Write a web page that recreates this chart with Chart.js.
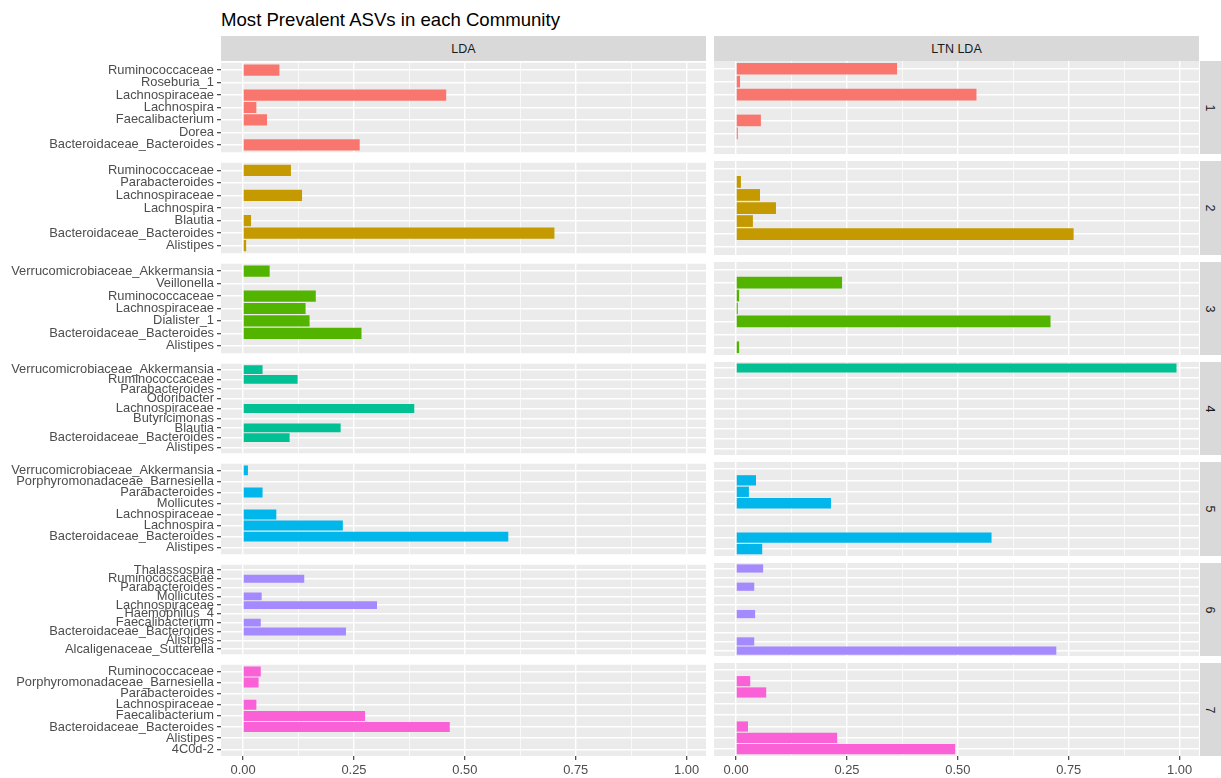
<!DOCTYPE html>
<html>
<head>
<meta charset="utf-8">
<script src="https://cdn.jsdelivr.net/npm/chart.js@4.4.1/dist/chart.umd.min.js"></script>
<style>
  body { margin: 0; background: #fff; width: 1221px; height: 778px; position: relative; overflow: hidden;
         font-family: "Liberation Sans", Arial, sans-serif; }
  canvas { position: absolute; }
  #title { position: absolute; left: 221px; top: 9px; font-size: 18.6px; line-height: 21px; color: #000; white-space: nowrap; }
  .strip { position: absolute; background: #D9D9D9; color: #1A1A1A; font-size: 12.5px;
           display: flex; align-items: center; justify-content: center; }
  .strip.side span { display: inline-block; transform: rotate(90deg); }
</style>
</head>
<body>
<div id="title">Most Prevalent ASVs in each Community</div>
<script>
// facets
const facets = ['LDA', 'LTN LDA'];
const communities = ['1', '2', '3', '4', '5', '6', '7'];
const colors = ['#F8766D', '#C49A00', '#53B400', '#00C094', '#00B6EB', '#A58AFF', '#FB61D7'];

// x axis
const xTicks = [0, 0.125, 0.25, 0.375, 0.5, 0.625, 0.75, 0.875, 1.0];
const xMajor = [0, 0.25, 0.5, 0.75, 1.0];
const xDataMax = 0.994;

// taxa per community, listed bottom -> top (ggplot order)
const taxa1 = ['Bacteroidaceae_Bacteroides', 'Dorea', 'Faecalibacterium', 'Lachnospira', 'Lachnospiraceae', 'Roseburia_1', 'Ruminococcaceae'];
const lda1 = [0.263, 0, 0.054, 0.030, 0.458, 0, 0.082];
const ltn1 = [0, 0.004, 0.056, 0, 0.542, 0.009, 0.363];

const taxa2 = ['Alistipes', 'Bacteroidaceae_Bacteroides', 'Blautia', 'Lachnospira', 'Lachnospiraceae', 'Parabacteroides', 'Ruminococcaceae'];
const lda2 = [0.007, 0.702, 0.018, 0, 0.133, 0, 0.108];
const ltn2 = [0, 0.761, 0.038, 0.090, 0.054, 0.011, 0];

const taxa3 = ['Alistipes', 'Bacteroidaceae_Bacteroides', 'Dialister_1', 'Lachnospiraceae', 'Ruminococcaceae', 'Veillonella', 'Verrucomicrobiaceae_Akkermansia'];
const lda3 = [0, 0.267, 0.150, 0.141, 0.164, 0, 0.060];
const ltn3 = [0.007, 0, 0.709, 0.004, 0.007, 0.239, 0];

const taxa4 = ['Alistipes', 'Bacteroidaceae_Bacteroides', 'Blautia', 'Butyricimonas', 'Lachnospiraceae', 'Odoribacter', 'Parabacteroides', 'Ruminococcaceae', 'Verrucomicrobiaceae_Akkermansia'];
const lda4 = [0, 0.105, 0.220, 0, 0.386, 0, 0, 0.123, 0.044];
const ltn4 = [0, 0, 0, 0, 0, 0, 0, 0, 0.993];

const taxa5 = ['Alistipes', 'Bacteroidaceae_Bacteroides', 'Lachnospira', 'Lachnospiraceae', 'Mollicutes', 'Parabacteroides', 'Porphyromonadaceae_Barnesiella', 'Verrucomicrobiaceae_Akkermansia'];
const lda5 = [0, 0.598, 0.225, 0.075, 0, 0.044, 0, 0.011];
const ltn5 = [0.059, 0.576, 0, 0, 0.214, 0.029, 0.045, 0];

const taxa6 = ['Alcaligenaceae_Sutterella', 'Alistipes', 'Bacteroidaceae_Bacteroides', 'Faecalibacterium', 'Haemophilus_4', 'Lachnospiraceae', 'Mollicutes', 'Parabacteroides', 'Ruminococcaceae', 'Thalassospira'];
const lda6 = [0, 0, 0.232, 0.040, 0, 0.302, 0.042, 0, 0.138, 0];
const ltn6 = [0.722, 0.041, 0, 0, 0.043, 0, 0, 0.041, 0, 0.061];

const taxa7 = ['4C0d-2', 'Alistipes', 'Bacteroidaceae_Bacteroides', 'Faecalibacterium', 'Lachnospiraceae', 'Parabacteroides', 'Porphyromonadaceae_Barnesiella', 'Ruminococcaceae'];
const lda7 = [0, 0, 0.466, 0.275, 0.030, 0, 0.035, 0.040];
const ltn7 = [0.494, 0.228, 0.027, 0, 0, 0.068, 0.032, 0];

const taxa = [taxa1, taxa2, taxa3, taxa4, taxa5, taxa6, taxa7];
const ldaValues = [lda1, lda2, lda3, lda4, lda5, lda6, lda7];
const ltnValues = [ltn1, ltn2, ltn3, ltn4, ltn5, ltn6, ltn7];

// layout (px)
const PANEL_TOP = 61, PANEL_H = 93.3, GAP = 7;
const LEFT_X = 221, LEFT_R = 706, RIGHT_X = 714, RIGHT_R = 1199;
const PAD = 9, AXIS_H = 22;
const FONT = { family: '"Liberation Sans", Arial, sans-serif', size: 12.9 };

const panelBg = {
    id: 'panelBg',
    beforeDraw(chart) {
        const a = chart.chartArea;
        const ctx = chart.ctx;
        ctx.save();
        ctx.fillStyle = '#EBEBEB';
        ctx.fillRect(a.left, a.top, a.right - a.left, a.bottom - a.top);
        ctx.restore();
    }
};

const isMajor = v => xMajor.some(m => Math.abs(m - v) < 1e-9);

function addStrip(text, x, y, w, h, side) {
    const d = document.createElement('div');
    d.className = 'strip' + (side ? ' side' : '');
    d.style.left = x + 'px';
    d.style.top = y + 'px';
    d.style.width = w + 'px';
    d.style.height = h + 'px';
    const s = document.createElement('span');
    s.textContent = text;
    d.appendChild(s);
    document.body.appendChild(d);
}

function makePanel(r, col) {
    const isLeft = col === 0;
    const isBottom = r === communities.length - 1;
    const names = taxa[r];
    const values = isLeft ? ldaValues[r] : ltnValues[r];
    const top = Math.round(PANEL_TOP + r * (PANEL_H + GAP));
    const bottom = Math.round(PANEL_TOP + r * (PANEL_H + GAP) + PANEL_H);

    const canvas = document.createElement('canvas');
    const left = isLeft ? 0 : RIGHT_X;
    const width = isLeft ? LEFT_R : RIGHT_R - RIGHT_X;
    const height = (bottom - top) + PAD + (isBottom ? AXIS_H : PAD);
    canvas.width = width;
    canvas.height = height;
    canvas.style.left = left + 'px';
    canvas.style.top = (top - PAD) + 'px';
    canvas.style.width = width + 'px';
    canvas.style.height = height + 'px';
    document.body.appendChild(canvas);

    new Chart(canvas, {
        type: 'bar',
        data: {
            datasets: [{
                data: names.map((n, i) => ({ x: values[i], y: i + 1 })),
                backgroundColor: colors[r],
                borderWidth: 0,
                barPercentage: 0.9,
                categoryPercentage: 1
            }]
        },
        options: {
            indexAxis: 'y',
            responsive: false,
            animation: false,
            layout: {
                padding: { top: PAD, bottom: isBottom ? 0 : PAD, left: 0, right: 0 }
            },
            plugins: {
                legend: { display: false },
                tooltip: { enabled: false }
            },
            scales: {
                x: {
                    type: 'linear',
                    bounds: 'data',
                    offset: false,
                    min: -0.05 * xDataMax,
                    max: 1.05 * xDataMax,
                    afterBuildTicks: s => { s.ticks = xTicks.map(v => ({ value: v })); },
                    afterFit: s => { s.height = isBottom ? AXIS_H : 0; },
                    border: { display: false },
                    grid: {
                        offset: false,
                        color: '#FFFFFF',
                        lineWidth: c => isMajor(c.tick.value) ? 1.4 : 0.7,
                        drawTicks: isBottom,
                        tickLength: 4,
                        tickWidth: 1.1,
                        tickColor: c => isMajor(c.tick.value) ? '#333333' : 'rgba(0,0,0,0)'
                    },
                    ticks: {
                        display: isBottom,
                        autoSkip: false,
                        maxRotation: 0,
                        padding: 3,
                        color: '#4D4D4D',
                        font: FONT,
                        callback: v => isMajor(v) ? v.toFixed(2) : ''
                    }
                },
                y: {
                    type: 'linear',
                    bounds: 'data',
                    offset: false,
                    min: 0.4,
                    max: names.length + 0.6,
                    afterBuildTicks: s => { s.ticks = names.map((n, i) => ({ value: i + 1 })); },
                    afterFit: s => { s.width = isLeft ? LEFT_X : 0; },
                    border: { display: false },
                    grid: {
                        offset: false,
                        color: '#FFFFFF',
                        lineWidth: 1.4,
                        drawTicks: isLeft,
                        tickLength: 4,
                        tickWidth: 1.1,
                        tickColor: '#333333'
                    },
                    ticks: {
                        display: isLeft,
                        autoSkip: false,
                        padding: 3,
                        color: '#4D4D4D',
                        font: FONT,
                        callback: v => names[v - 1]
                    }
                }
            }
        },
        plugins: [panelBg]
    });

    if (!isLeft) {
        addStrip(communities[r], RIGHT_R + 1, top, 1221 - RIGHT_R - 1, bottom - top, true);
    }
}

addStrip(facets[0], LEFT_X, 36, LEFT_R - LEFT_X, 25, false);
addStrip(facets[1], RIGHT_X, 36, RIGHT_R - RIGHT_X, 25, false);

for (let r = 0; r < communities.length; r++) {
    makePanel(r, 0);
    makePanel(r, 1);
}
</script>
</body>
</html>
